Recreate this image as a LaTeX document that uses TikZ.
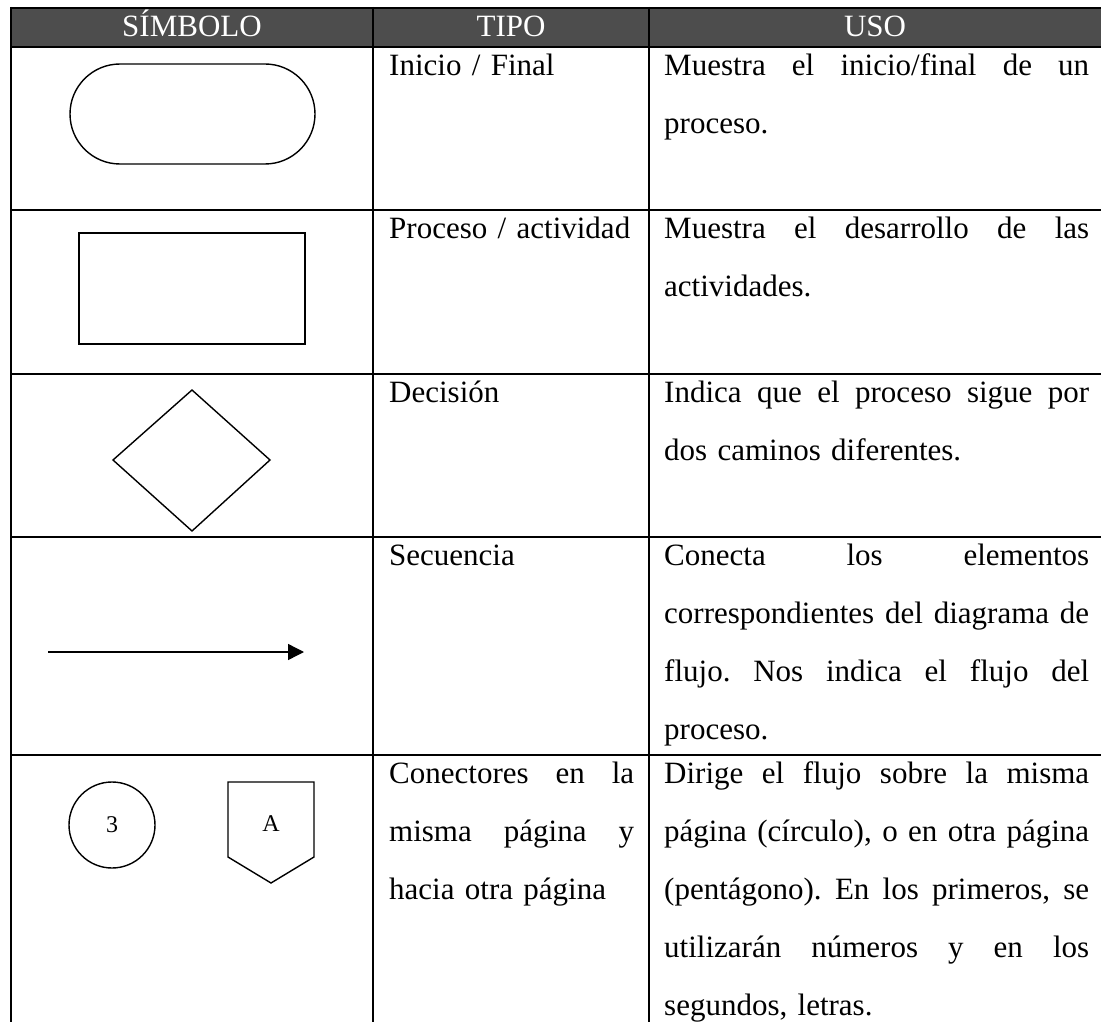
\documentclass[tikz,border=0pt]{standalone}
\usepackage{fontspec}
\setmainfont{Liberation Serif}
\usetikzlibrary{arrows.meta}
\definecolor{hdrgray}{RGB}{77,77,77}
\newcommand\Ju[1]{\leavevmode\hbox to 425pt{#1}}
\newcommand\Jt[1]{\leavevmode\hbox to 245pt{#1}}
\newcommand\gp{\hfill\ }
\begin{document}
\begin{tikzpicture}[x=1pt,y=-1pt,
  gridline/.style={line width=2pt},
  symline/.style={line width=1.4pt, line join=miter},
  hdr/.style={text=white, font=\fontsize{31}{36}\selectfont, inner sep=0pt, anchor=base},
  tipo/.style={font=\fontsize{31}{58}\selectfont, inner sep=0pt, anchor=base west, text width=245pt, align=left},
  uso/.style={font=\fontsize{31}{58}\selectfont, inner sep=0pt, anchor=base west, text width=425pt, align=left},
  lbl/.style={font=\fontsize{24}{24}\selectfont, inner sep=0pt},
]
\useasboundingbox (0,0) rectangle (1101,1022);
% header
\fill[hdrgray] (11,8) rectangle (1101,47);
\node[hdr] (h1) at (192,37) {SÍMBOLO};
\node[hdr] (h2) at (511,37) {TIPO};
\node[hdr] (h3) at (875,37) {USO};
% grid
\draw[gridline] (11,8) -- (1101,8);
\draw[gridline] (11,47) -- (1101,47);
\draw[gridline] (11,210) -- (1101,210);
\draw[gridline] (11,373.5) -- (1101,373.5);
\draw[gridline] (11,537) -- (1101,537);
\draw[gridline] (11,755) -- (1101,755);
\draw[gridline] (11,7) -- (11,1022);
\draw[gridline] (373,7) -- (373,1022);
\draw[gridline] (649,7) -- (649,1022);
% row 1
\node[draw, symline, minimum width=245pt, minimum height=100pt, rounded corners=50pt] (term) at (192.5,114) {};
\node[tipo] (t1) at (389,75.5) {Inicio / Final};
\node[uso] (u1) at (664,75.5) {\Ju{Muestra\gp el\gp inicio/final\gp de\gp un}\\proceso.};
% row 2
\node[draw, symline, minimum width=226pt, minimum height=111pt] (proc) at (192,288.5) {};
\node[tipo] (t2) at (389,238.5) {Proceso / actividad};
\node[uso] (u2) at (664,238.5) {\Ju{Muestra\gp el\gp desarrollo\gp de\gp las}\\actividades.};
% row 3
\coordinate (dN) at (192,390);
\coordinate (dE) at (270,460);
\coordinate (dS) at (192,531);
\coordinate (dW) at (113,460);
\draw[symline] (dN) -- (dE) -- (dS) -- (dW) -- cycle;
\node[tipo] (t3) at (389,402) {Decisión};
\node[uso] (u3) at (664,402) {\Ju{Indica\gp que\gp el\gp proceso\gp sigue\gp por}\\dos caminos diferentes.};
% row 4
\coordinate (a1) at (48,652);
\coordinate (a2) at (304,652);
\draw[symline, -{Triangle[length=16pt,width=16pt]}] (a1) -- (a2);
\node[tipo] (t4) at (389,565.5) {Secuencia};
\node[uso] (u4) at (664,565.5) {\Ju{Conecta\gp los\gp elementos}\\\Ju{correspondientes\gp del\gp diagrama\gp de}\\\Ju{flujo.\gp Nos\gp indica\gp el\gp flujo\gp del}\\proceso.};
% row 5
\node[draw, symline, circle, minimum size=86pt, inner sep=0pt, lbl] (c3) at (112,825) {3};
\coordinate (p1) at (228,782);
\coordinate (p2) at (314,782);
\coordinate (p3) at (314,857);
\coordinate (p4) at (271,883);
\coordinate (p5) at (228,857);
\draw[symline] (p1) -- (p2) -- (p3) -- (p4) -- (p5) -- cycle;
\node[lbl] (pA) at (271,824) {A};
\node[tipo] (t5) at (389,783.5) {\Jt{Conectores\gp en\gp la}\\\Jt{misma\gp página\gp y}\\hacia otra página};
\node[uso] (u5) at (664,783.5) {\Ju{Dirige\gp el\gp flujo\gp sobre\gp la\gp misma}\\\Ju{página\gp (círculo),\gp o\gp en\gp otra\gp página}\\\Ju{(pentágono).\gp En\gp los\gp primeros,\gp se}\\\Ju{utilizarán\gp números\gp y\gp en\gp los}\\segundos, letras.};
\end{tikzpicture}
\end{document}
